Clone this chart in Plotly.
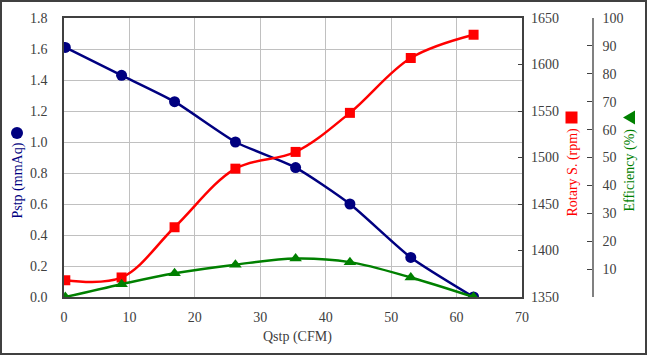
import plotly.graph_objects as go

# ---- data ----
qstp = [0.2, 8.8, 16.9, 26.2, 35.4, 43.7, 53.0, 62.6]
pstp = [1.61, 1.43, 1.26, 1.00, 0.835, 0.60, 0.255, 0.0]
rpm = [1368, 1371, 1425, 1488, 1506, 1548, 1607, 1632]
eff = [0.0, 4.6, 8.5, 11.6, 13.8, 12.5, 7.0, 0.0]

x_ticks = [0, 10, 20, 30, 40, 50, 60, 70]
p_ticks = [0.0, 0.2, 0.4, 0.6, 0.8, 1.0, 1.2, 1.4, 1.6, 1.8]
rpm_ticks = [1350, 1400, 1450, 1500, 1550, 1600, 1650]
eff_ticks = [10, 20, 30, 40, 50, 60, 70, 80, 90, 100]

NAVY = "#000080"
RED = "#FF0000"
GREEN = "#008000"
FONT = "Liberation Serif, Times New Roman, serif"

W, H = 647, 356
L, T, R3, B = 64, 18, 593, 297   # plot left, top, efficiency axis x, bottom
PR = 522                          # plot right


def px(xp):
    return (xp - L) / (R3 - L)


def py(yp):
    return (B - yp) / (B - T)


fig = go.Figure()
fig.add_trace(go.Scatter(x=qstp, y=pstp, mode="lines+markers", yaxis="y",
                         line=dict(color=NAVY, width=2.5, shape="spline", smoothing=0.6),
                         marker=dict(symbol="circle", size=11, color=NAVY)))
fig.add_trace(go.Scatter(x=qstp, y=rpm, mode="lines+markers", yaxis="y2",
                         line=dict(color=RED, width=2.5, shape="spline", smoothing=1.0),
                         marker=dict(symbol="square", size=10, color=RED)))
fig.add_trace(go.Scatter(x=qstp, y=eff, mode="lines+markers", yaxis="y3",
                         line=dict(color=GREEN, width=2.5, shape="spline", smoothing=1.0),
                         marker=dict(symbol="triangle-up", size=11, color=GREEN)))

axfont = dict(family=FONT, size=14, color="#404040")
fig.update_layout(
    width=W, height=H,
    margin=dict(l=L, r=W - R3, t=T, b=H - B, pad=0, autoexpand=False),
    paper_bgcolor="white", plot_bgcolor="white",
    showlegend=False,
    font=axfont,
    xaxis=dict(domain=[0, (PR - L) / (R3 - L)], range=[0, 70], tickvals=x_ticks,
               showgrid=True, gridcolor="#c0c0c0", gridwidth=1,
               showline=True, linecolor="#404040", linewidth=1.5, mirror=True,
               ticks="", ticklabelstandoff=6, zeroline=False, tickfont=axfont,
               automargin=False),
    yaxis=dict(range=[0, 1.8], tickvals=p_ticks, tickformat=".1f",
               showgrid=True, gridcolor="#c0c0c0", gridwidth=1,
               showline=True, linecolor="#404040", linewidth=1.5, mirror=True,
               ticks="", ticklabelstandoff=12, zeroline=False, tickfont=axfont,
               automargin=False),
    yaxis2=dict(range=[1350, 1650], tickvals=rpm_ticks, overlaying="y", side="right",
                anchor="x", showgrid=False, zeroline=False,
                ticks="inside", ticklen=4, tickcolor="#404040",
                ticklabelstandoff=8, tickfont=axfont, automargin=False),
    yaxis3=dict(range=[0, 100], tickvals=eff_ticks, overlaying="y", side="right",
                anchor="free", position=1.0, showgrid=False, zeroline=False,
                showline=True, linecolor="#808080", linewidth=1.5,
                ticks="inside", ticklen=5, tickcolor="#404040",
                ticklabelstandoff=6, tickfont=axfont, automargin=False),
)

ann = []
ann.append(dict(text="Pstp (mmAq)", x=px(17), y=py(180.5), textangle=-90,
                font=dict(family=FONT, size=14, color=NAVY)))
ann.append(dict(text="Rotary S. (rpm)", x=px(572), y=py(172.5), textangle=-90,
                font=dict(family=FONT, size=14, color=RED)))
ann.append(dict(text="Efficiency (%)", x=px(629), y=py(170.5), textangle=-90,
                font=dict(family=FONT, size=14, color=GREEN)))
ann.append(dict(text="Qstp (CFM)", x=px(297), y=py(337), textangle=0,
                font=dict(family=FONT, size=14, color="#404040")))
for a in ann:
    a.update(xref="paper", yref="paper", showarrow=False, xanchor="center", yanchor="middle")
fig.update_layout(annotations=ann)

shapes = [
    # circle marker for Pstp title
    dict(type="circle", xref="paper", yref="paper", xsizemode="pixel", ysizemode="pixel",
         xanchor=px(17), yanchor=py(133), x0=-6, x1=6, y0=-6, y1=6,
         fillcolor=NAVY, line=dict(color=NAVY, width=0)),
    # square for rpm title
    dict(type="rect", xref="paper", yref="paper", xsizemode="pixel", ysizemode="pixel",
         xanchor=px(571.5), yanchor=py(117.5), x0=-6, x1=6, y0=-6, y1=6,
         fillcolor=RED, line=dict(color=RED, width=0)),
    # left-pointing triangle for efficiency title
    dict(type="path", xref="paper", yref="paper", xsizemode="pixel", ysizemode="pixel",
         xanchor=px(629), yanchor=py(117.5), path="M -6 0 L 6 7 L 6 -7 Z",
         fillcolor=GREEN, line=dict(color=GREEN, width=0)),
    # outer frame
    dict(type="rect", xref="paper", yref="paper", x0=px(1), x1=px(646), y0=py(1), y1=py(354),
         line=dict(color="#404040", width=2), fillcolor="rgba(0,0,0,0)", layer="above"),
]
fig.update_layout(shapes=shapes)

fig.write_html("out.html", config={"displayModeBar": False},
               post_script="document.body.style.margin='0px';document.body.style.overflow='hidden';")
